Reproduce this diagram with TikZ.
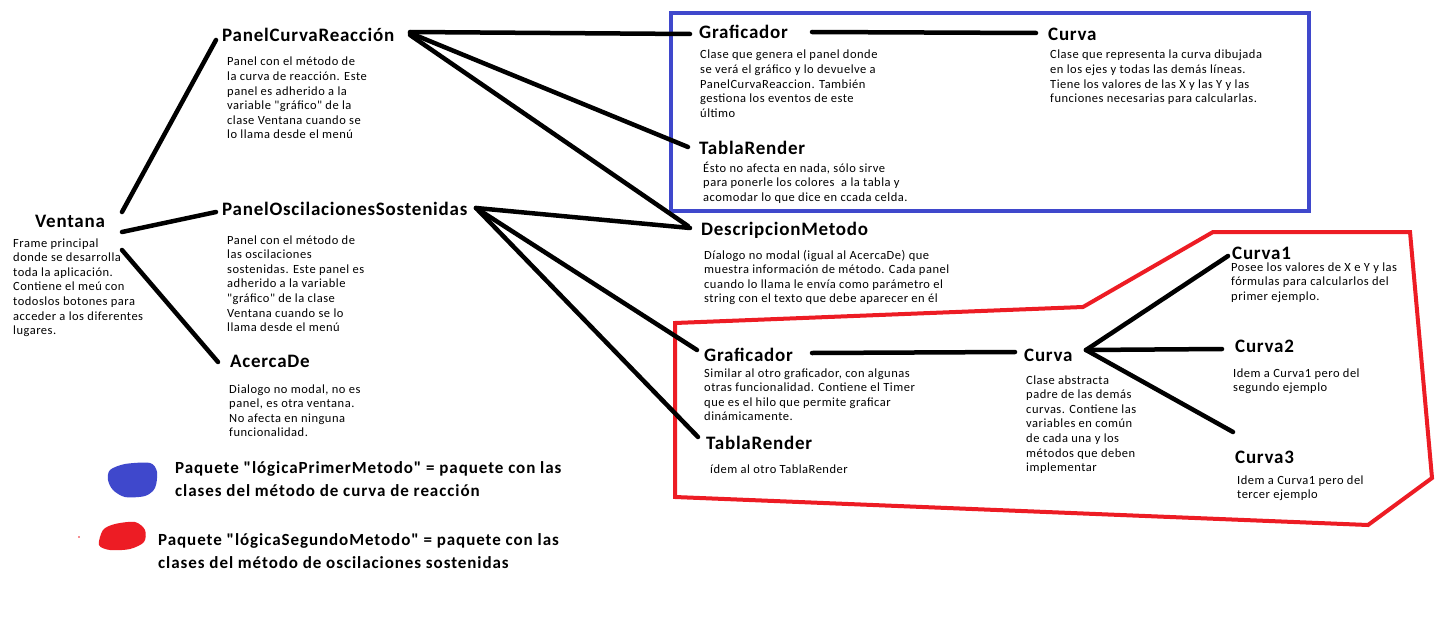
\documentclass[tikz,border=0pt]{standalone}
\usepackage{fontspec}
\setmainfont{Carlito}[Ligatures=TeXOff]
\newfontfamily\bodyfam{Carlito}[LetterSpace=4,Ligatures=TeXOff]
\newfontfamily\ttlfam{Carlito}[LetterSpace=4,Ligatures=TeXOff]
\newfontfamily\legfam{Carlito}[LetterSpace=5.5,Ligatures=TeXOff]
\definecolor{pblue}{HTML}{3F48CC}
\definecolor{pred}{HTML}{ED1C24}
\newcommand{\bodyfnt}{\bodyfam\fontsize{12.5}{14.6}\selectfont}
\newcommand{\ttlfnt}{\ttlfam\fontsize{19}{22}\selectfont\bfseries}
\newcommand{\legfnt}{\legfam\fontsize{17}{23}\selectfont\bfseries}
\newcommand{\blk}[1]{\begin{tabular}[t]{@{}l@{}}#1\end{tabular}}
\tikzset{
  ttl/.style={anchor=base west, inner sep=0pt, font=\ttlfnt},
  bdy/.style={anchor=base west, inner sep=0pt, font=\bodyfnt},
  leg/.style={anchor=base west, inner sep=0pt, font=\legfnt},
  conn/.style={line width=4.5pt, line cap=round, black},
  pkgblue/.style={line width=4pt, pblue},
  pkgred/.style={line width=4pt, pred, line join=miter},
}
\begin{document}
\begin{tikzpicture}[x=1pt,y=-1pt]
\useasboundingbox[fill=white] (0,0) rectangle (1453,634);

% package outlines
\draw[pkgblue] (671,13) rectangle (1309,211);
\draw[pkgred] (675,323) -- (1083,307) -- (1213,232) -- (1410,232) -- (1432,478) -- (1368,525) -- (675,497) -- cycle;

% titles
\node[ttl] (ventana) at (35,227) {Ventana};
\node[ttl] (pcr) at (222,42) {PanelCurvaReacción};
\node[ttl] (pos) at (222,215) {PanelOscilacionesSostenidas};
\node[ttl] (acerca) at (230,367) {AcercaDe};
\node[ttl] (graf1) at (699,38) {Graficador};
\node[ttl] (curvab) at (1048,41) {Curva};
\node[ttl] (tabla1) at (699,154) {TablaRender};
\node[ttl] (desc) at (701,235) {DescripcionMetodo};
\node[ttl] (graf2) at (704,361) {Graficador};
\node[ttl] (tabla2) at (706,449) {TablaRender};
\node[ttl] (curvar) at (1024,361) {Curva};
\node[ttl] (c1) at (1232,259) {Curva1};
\node[ttl] (c2) at (1235,352) {Curva2};
\node[ttl] (c3) at (1235,463) {Curva3};

% bodies
\node[bdy] (ventanab) at (13,247) {\blk{Frame principal\\ donde se desarrolla\\ toda la aplicación.\\ Contiene el meú con\\ todoslos botones para\\ acceder a los diferentes\\ lugares.}};
\node[bdy] (pcrb) at (227,66) {\blk{Panel con el método de\\ la curva de reacción. Este\\ panel es adherido a la\\ variable "gráfico" de la\\ clase Ventana cuando se\\ lo llama desde el menú}};
\node[bdy] (posb) at (227,244) {\blk{Panel con el método de\\ las oscilaciones\\ sostenidas. Este panel es\\ adherido a la variable\\ "gráfico" de la clase\\ Ventana cuando se lo\\ llama desde el menú}};
\node[bdy] (acercab) at (229,393) {\blk{Dialogo no modal, no es\\ panel, es otra ventana.\\ No afecta en ninguna\\ funcionalidad.}};
\node[bdy] (graf1b) at (700,59) {\blk{Clase que genera el panel donde\\ se verá el gráfico y lo devuelve a\\ PanelCurvaReaccion. También\\ gestiona los eventos de este\\ último}};
\node[bdy] (curvabb) at (1050,59) {\blk{Clase que representa la curva dibujada\\ en los ejes y todas las demás líneas.\\ Tiene los valores de las X y las Y y las\\ funciones necesarias para calcularlas.}};
\node[bdy] (tabla1b) at (703,172) {\blk{Ésto no afecta en nada, sólo sirve\\ para ponerle los colores\ \ a la tabla y\\ acomodar lo que dice en ccada celda.}};
\node[bdy] (descb) at (704,259) {\blk{Díalogo no modal (igual al AcercaDe) que\\ muestra información de método. Cada panel\\ cuando lo llama le envía como parámetro el\\ string con el texto que debe aparecer en él}};
\node[bdy] (graf2b) at (704,377) {\blk{Similar al otro graficador, con algunas\\ otras funcionalidad. Contiene el Timer\\ que es el hilo que permite graficar\\ dinámicamente.}};
\node[bdy] (tabla2b) at (710,473) {\blk{ídem al otro TablaRender}};
\node[bdy] (curvarb) at (1026,384) {\blk{Clase abstracta\\ padre de las demás\\ curvas. Contiene las\\ variables en común\\ de cada una y los\\ métodos que deben\\ implementar}};
\node[bdy] (c1b) at (1231,271) {\blk{Posee los valores de X e Y y las\\ fórmulas para calcularlos del\\ primer ejemplo.}};
\node[bdy] (c2b) at (1233,377) {\blk{Idem a Curva1 pero del\\ segundo ejemplo}};
\node[bdy] (c3b) at (1237,484) {\blk{Idem a Curva1 pero del\\ tercer ejemplo}};

% connectors
\draw[conn] ([shift={(87,-15)}]ventana.base west) -- ([shift={(-6,-2)}]pcr.base west);
\draw[conn] ([shift={(87,5)}]ventana.base west) -- ([shift={(-6,-3)}]pos.base west);
\draw[conn] ([shift={(87,23)}]ventana.base west) -- ([shift={(-12,-5)}]acerca.base west);
\draw[conn] ([shift={(188,-10)}]pcr.base west) -- ([shift={(-9,-4)}]graf1.base west);
\draw[conn] ([shift={(188,-9)}]pcr.base west) -- ([shift={(-11,-7)}]tabla1.base west);
\draw[conn] ([shift={(188,-7)}]pcr.base west) -- ([shift={(-13,-9)}]desc.base west);
\draw[conn] ([shift={(254,-7)}]pos.base west) -- ([shift={(-11,-7)}]desc.base west);
\draw[conn] ([shift={(254,-7)}]pos.base west) -- ([shift={(-7,-11)}]graf2.base west);
\draw[conn] ([shift={(254,-7)}]pos.base west) -- ([shift={(-8,-12)}]tabla2.base west);
\draw[conn] ([shift={(113,-6)}]graf1.base west) -- ([shift={(-12,-8)}]curvab.base west);
\draw[conn] ([shift={(108,-8)}]graf2.base west) -- ([shift={(-9,-9)}]curvar.base west);
\draw[conn] ([shift={(62,-11)}]curvar.base west) -- ([shift={(-4,-3)}]c1.base west);
\draw[conn] ([shift={(62,-11)}]curvar.base west) -- ([shift={(-13,-3)}]c2.base west);
\draw[conn] ([shift={(62,-11)}]curvar.base west) -- ([shift={(-2,-31)}]c3.base west);

% legend
\fill[pblue] plot[smooth cycle] coordinates {(110,470) (125,464) (150,463) (157,472) (155,488) (145,496) (125,497) (113,490) (108,480)};
\fill[pred] plot[smooth cycle] coordinates {(103,530) (115,524) (135,522) (145,530) (144,542) (130,549) (110,550) (99,545)};
\fill[pred] (79,537) circle (0.8);
\node[leg] (legb) at (175,473) {\blk{Paquete "lógicaPrimerMetodo" = paquete con las\\ clases del método de curva de reacción}};
\node[leg] (legr) at (158,545) {\blk{Paquete "lógicaSegundoMetodo" = paquete con las\\ clases del método de oscilaciones sostenidas}};
\end{tikzpicture}
\end{document}
